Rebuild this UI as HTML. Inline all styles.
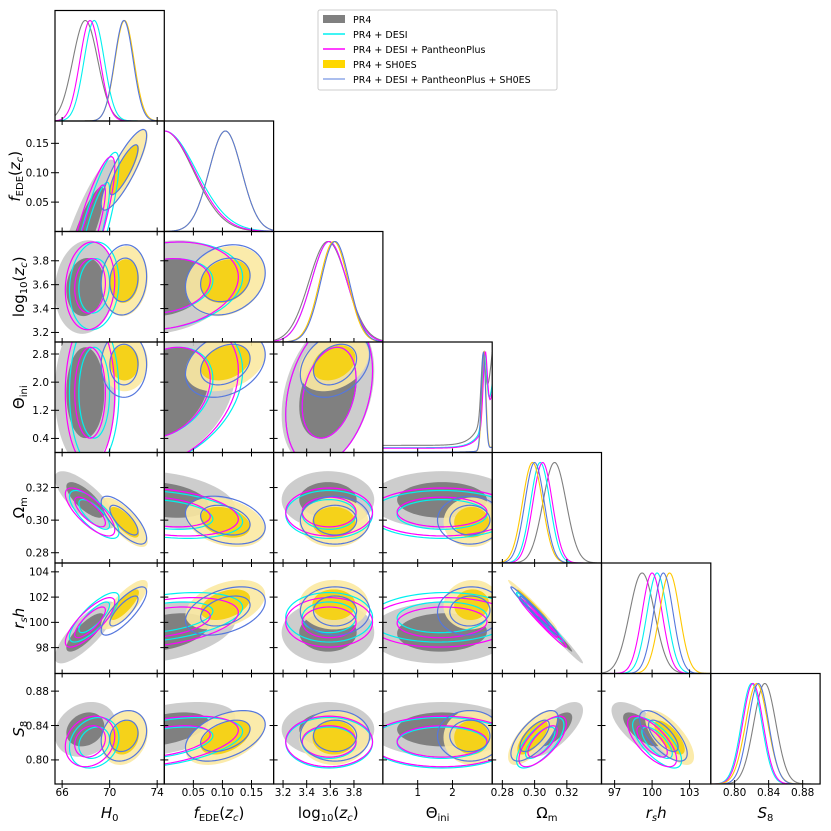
<!DOCTYPE html>
<html><head><meta charset="utf-8">
<style>
html,body{margin:0;padding:0;background:#fff;}
svg{display:block;font-family:"DejaVu Sans","Liberation Sans",sans-serif;}
</style></head>
<body>
<svg id="chart" width="831" height="831" viewBox="0 0 831 831"></svg>
<script>
// ---- data ----
const paramLabels = ["H0","fEDE","logzc","theta","Om","rsh","S8"];
const ranges = [[65.4,74.6],[0,0.188],[3.12,4.045],[0,3.1416],[0.2737,0.3415],[95.95,104.7],[0.772,0.9005]];
const xTicks = [[66,70,74],[0.05,0.10,0.15],[3.2,3.4,3.6,3.8],[1,2],[0.28,0.30,0.32],[97,100,103],[0.80,0.84,0.88]];
const xTickLabels = [["66","70","74"],["0.05","0.10","0.15"],["3.2","3.4","3.6","3.8"],["1","2"],["0.28","0.30","0.32"],["97","100","103"],["0.80","0.84","0.88"]];
const yTicks = [[],[0.05,0.10,0.15],[3.2,3.4,3.6,3.8],[0.4,1.2,2.0,2.8],[0.28,0.30,0.32],[98,100,102,104],[0.80,0.84,0.88]];
const yTickLabels = [[],["0.05","0.10","0.15"],["3.2","3.4","3.6","3.8"],["0.4","1.2","2.0","2.8"],["0.28","0.30","0.32"],["98","100","102","104"],["0.80","0.84","0.88"]];

const seriesNames = ["PR4","PR4 + DESI","PR4 + DESI + PantheonPlus","PR4 + SH0ES","PR4 + DESI + PantheonPlus + SH0ES"];
const meansPR4    = [67.95, 0.0,   3.58, 1.7,  0.3124, 99.2,  0.8355];
const sdsPR4      = [1.05,  0.05,  0.16, 0.85, 0.0072, 1.0,   0.013];
const meansDESI   = [68.7,  0.0,   3.59, 1.7,  0.3035, 100.4, 0.820];
const sdsDESI     = [0.85,  0.055, 0.15, 0.85, 0.006,  0.8,   0.012];
const meansDESIPP = [68.35, 0.0,   3.59, 1.7,  0.305,  100.0, 0.8215];
const sdsDESIPP   = [0.85,  0.052, 0.15, 0.85, 0.006,  0.8,   0.012];
const meansSH0ES  = [71.25, 0.105, 3.63, 2.55, 0.2987, 101.4, 0.826];
const sdsSH0ES    = [0.8,   0.028, 0.12, 0.33, 0.0062, 0.8,   0.013];
const meansALL    = [71.2,  0.105, 3.64, 2.5,  0.300,  100.9, 0.828];
const sdsALL      = [0.78,  0.028, 0.12, 0.38, 0.006,  0.78,  0.012];
// theta 1D: spike location and flat-tail level
const thetaPeak = [2.88, 2.92, 2.94, 2.9, 2.89];
const thetaTail = [0.12, 0.07, 0.06, 0.004, 0.004];
// correlations (i,j) i>j in order (1,0),(2,0),(2,1),(3,0),(3,1),(3,2),(4,0)...
const corr = [0.85, 0.1,0.2, 0.0,0.3,0.3, -0.75,-0.3,0.0,0.0, 0.8,0.4,0.0,0.05,-0.985, 0.2,0.45,0.0,0.0,0.7,-0.7];

// ---- layout ----
const svg = document.getElementById('chart');
const NS = 'http://www.w3.org/2000/svg';
const L0 = 55, T0 = 10.5, PW = 109.3, PH = 110.5;
const allMeans = [meansPR4, meansDESI, meansDESIPP, meansSH0ES, meansALL];
const allSds = [sdsPR4, sdsDESI, sdsDESIPP, sdsSH0ES, sdsALL];
const lineColors = ["#7f7f7f","#00f0f0","#ff00ff","#ffc800","#5577dd"];
function rho(i,j){ if(i<j){const t=i;i=j;j=t;} return corr[i*(i-1)/2+j]; }
function sx(p,v,col){ const r=ranges[p]; return L0+col*PW+(v-r[0])/(r[1]-r[0])*PW; }
function sy(p,v,row){ const r=ranges[p]; return T0+row*PH+PH-(v-r[0])/(r[1]-r[0])*PH; }
function mk(tag, attrs, parent){ const e=document.createElementNS(NS,tag); for(const k in attrs) e.setAttribute(k,attrs[k]); (parent||svg).appendChild(e); return e; }

const defs = mk('defs',{});
function ellipsePath(s, px, py, col, row, k){
  const m=allMeans[s], d=allSds[s], r=rho(px,py);
  let p='';
  for(let a=0;a<=72;a++){
    const t=a/72*2*Math.PI;
    const vx=m[px]+k*d[px]*Math.cos(t);
    const vy=m[py]+k*d[py]*(r*Math.cos(t)+Math.sqrt(1-r*r)*Math.sin(t));
    p+=(a?'L':'M')+sx(px,vx,col).toFixed(2)+','+sy(py,vy,row).toFixed(2);
  }
  return p+'Z';
}
const K1=1.52, K2=2.45;

for(let row=0; row<7; row++){
  for(let col=0; col<=row; col++){
    const x0=L0+col*PW, y0=T0+row*PH;
    const g = mk('g',{});
    
    
    const cp = mk('clipPath',{id:'c'+row+'_'+col}, defs);
    mk('rect',{x:x0,y:y0,width:PW,height:PH},cp);
    const inner = mk('g',{'clip-path':'url(#c'+row+'_'+col+')'}, g);
    if(row===col){
      const p=row;
      for(let s=0;s<5;s++){
        let vals=[];
        for(let a=0;a<=200;a++){
          const v=ranges[p][0]+a/200*(ranges[p][1]-ranges[p][0]);
          let f;
          if(p===3){ f=thetaTail[s]*(1+1.5*Math.exp((v-2.6)/0.25))+Math.exp(-0.5*Math.pow((v-thetaPeak[s])/0.06,2)); }
          else f=Math.exp(-0.5*Math.pow((v-allMeans[s][p])/allSds[s][p],2));
          vals.push([v,f]);
        }
        const mx=Math.max(...vals.map(q=>q[1]));
        const d=vals.map((q,i)=>(i?'L':'M')+sx(p,q[0],col).toFixed(2)+','+(y0+PH-(q[1]/mx)*(PH-10)).toFixed(2)).join('');
        const path=mk('path',{d:d,fill:'none',stroke:lineColors[s],'stroke-width':1.1},inner);
        
        
      }
    } else {
      const px=col, py=row;
      const fills=[[0,'#c8c8c8','#808080'],[3,'#fbe9a2','#f5d21a']];
      fills.forEach(f=>{
        const o=mk('path',{d:ellipsePath(f[0],px,py,col,row,K2),fill:f[1],'fill-opacity':0.9},inner);
        
        
        const i=mk('path',{d:ellipsePath(f[0],px,py,col,row,K1),fill:f[2]},inner);
        
        
      });
      [1,2,4].forEach(s=>{
        [K2,K1].forEach(k=>{
          const e=mk('path',{d:ellipsePath(s,px,py,col,row,k),fill:'none',stroke:lineColors[s],'stroke-width':1.2},inner);
          
          
        });
      });
    }
    mk('rect',{x:x0,y:y0,width:PW,height:PH,fill:'none',stroke:'#000','stroke-width':1.2},g);
    xTicks[col].forEach((t,i)=>{
      const X=sx(col,t,col);
      mk('line',{x1:X,x2:X,y1:y0+PH-4,y2:y0+PH+4,stroke:'#000','stroke-width':1},g);
      if(row===6){
        const tx=mk('text',{x:X,y:796,'font-size':10.5,'text-anchor':'middle',fill:'#000'},g);
        tx.textContent=xTickLabels[col][i];
      }
    });
    if(row!==col){
      yTicks[row].forEach((t,i)=>{
        const Y=sy(row,t,row);
        mk('line',{x1:x0-4,x2:x0+4,y1:Y,y2:Y,stroke:'#000','stroke-width':1},g);
        if(col===0){
          const ty=mk('text',{x:49,y:Y+3.8,'font-size':10.5,'text-anchor':'end',fill:'#000'},g);
          ty.textContent=yTickLabels[row][i];
        }
      });
    }
  }
}
</script>
<script>
(function(){
  const svg=document.getElementById('chart'), NS='http://www.w3.org/2000/svg';
  const L0=55,T0=10.5,PW=109.3,PH=110.5;
  const xl=['<tspan font-style="italic">H</tspan><tspan font-size="10" dy="3">0</tspan>',
    '<tspan font-style="italic">f</tspan><tspan font-size="10" dy="3">EDE</tspan><tspan dy="-3">(</tspan><tspan font-style="italic">z</tspan><tspan font-size="10" font-style="italic" dy="3">c</tspan><tspan dy="-3">)</tspan>',
    'log<tspan font-size="10" dy="3">10</tspan><tspan dy="-3">(</tspan><tspan font-style="italic">z</tspan><tspan font-size="10" font-style="italic" dy="3">c</tspan><tspan dy="-3">)</tspan>',
    'Θ<tspan font-size="10" dy="3">ini</tspan>',
    'Ω<tspan font-size="10" dy="3">m</tspan>',
    '<tspan font-style="italic">r</tspan><tspan font-size="10" font-style="italic" dy="3">s</tspan><tspan font-style="italic" dy="-3">h</tspan>',
    '<tspan font-style="italic">S</tspan><tspan font-size="10" dy="3">8</tspan>'];
  let html='';
  xl.forEach((s,i)=>{ html+='<text x="'+(L0+i*PW+PW/2)+'" y="818" font-size="15" text-anchor="middle">'+s+'</text>'; });
  const ylx=[0,20,24,24,24,24,24];
  for(let r=1;r<7;r++){
    const cy=T0+r*PH+PH/2;
    html+='<text transform="translate('+ylx[r]+','+cy+') rotate(-90)" font-size="15" text-anchor="middle">'+xl[r]+'</text>';
  }
  html+='<g><rect x="318" y="10" width="239" height="80" rx="2" fill="#fff" stroke="#ccc" stroke-width="1"/>'+
   '<rect x="323" y="15" width="22" height="8" fill="#808080"/>'+
   '<line x1="323" x2="345" y1="34" y2="34" stroke="#00f0f0" stroke-width="1.5"/>'+
   '<line x1="323" x2="345" y1="49" y2="49" stroke="#ff00ff" stroke-width="1.5"/>'+
   '<rect x="323" y="60" width="22" height="8" fill="#ffd700"/>'+
   '<line x1="323" x2="345" y1="79" y2="79" stroke="#8fa8e8" stroke-width="1.5"/>'+
   '<g font-size="9.5" fill="#000"><text x="353" y="23">PR4</text>'+
   '<text x="353" y="38">PR4 + DESI</text>'+
   '<text x="353" y="53">PR4 + DESI + PantheonPlus</text>'+
   '<text x="353" y="68">PR4 + SH0ES</text>'+
   '<text x="353" y="83">PR4 + DESI + PantheonPlus + SH0ES</text></g></g>';
  const g=document.createElementNS(NS,'g');
  
  
  g.innerHTML=html;
  svg.appendChild(g);
})();
</script>
</body></html>
